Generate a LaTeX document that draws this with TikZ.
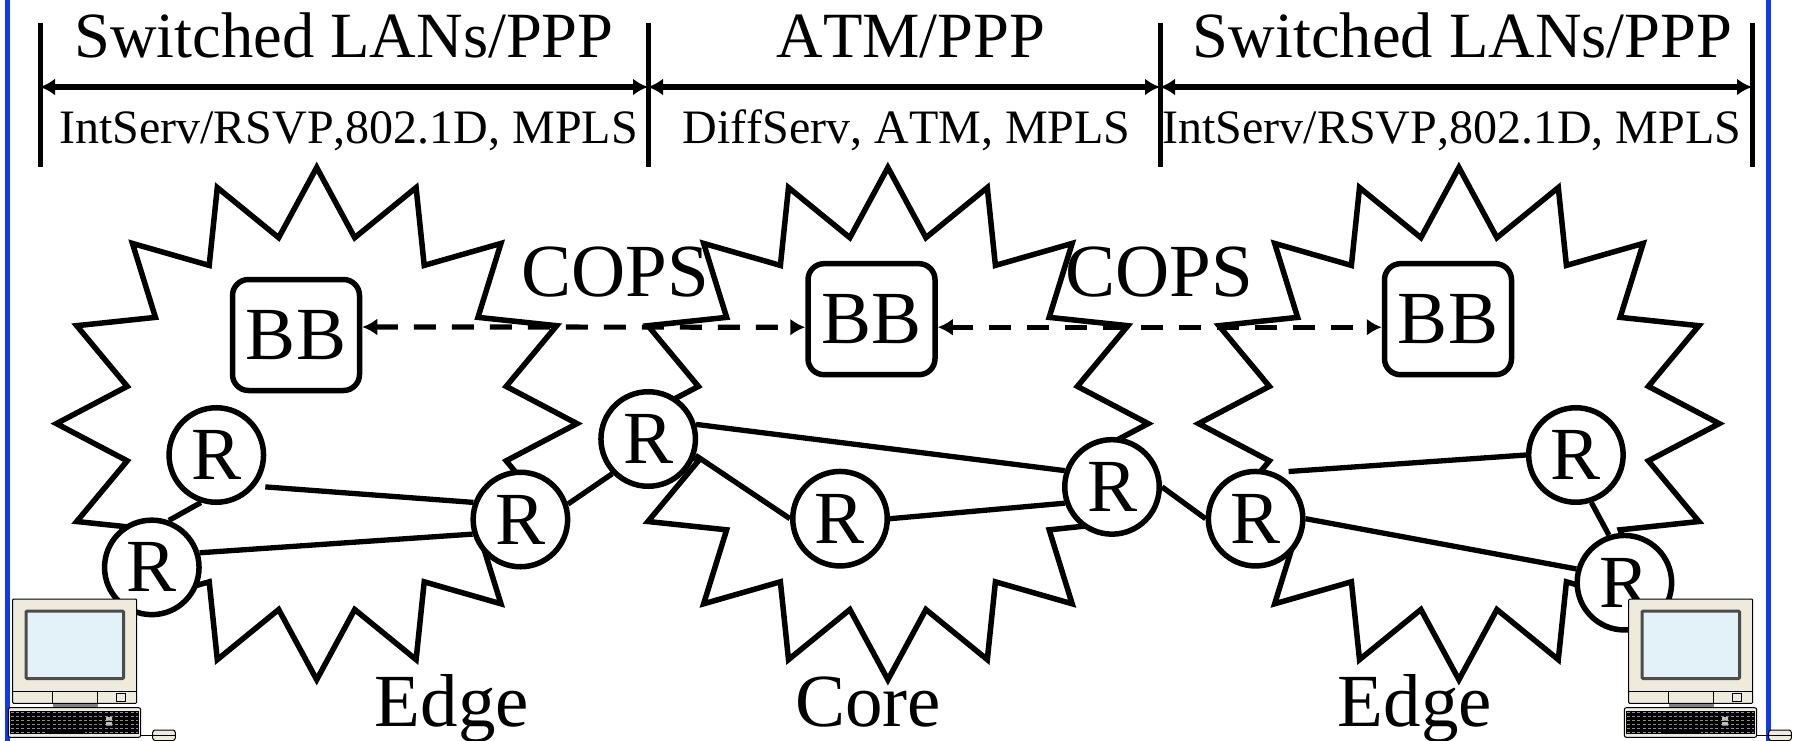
\documentclass[tikz,border=0pt]{standalone}
\usepackage{fontspec}
\setmainfont[Kerning=Off]{Liberation Serif}
\usetikzlibrary{arrows.meta}
\definecolor{slideblue}{RGB}{14,58,235}
\definecolor{beige}{RGB}{239,235,220}
\definecolor{screenblue}{RGB}{227,242,248}
\newcommand{\bigfont}{\fontsize{75}{80}\selectfont}
\newcommand{\headfont}{\fontsize{64.5}{72}\selectfont}
\newcommand{\subfont}{\fontsize{48}{56}\selectfont}
\newcommand{\zigstar}[2]{%
  \draw[starline,shift={(#1,#2)},scale=.99]
   (0,-258.7) -- (38.4,-187.8) -- (100.4,-238.4) -- (108.6,-159.8) -- (186.1,-182) -- (162.9,-107.3) -- (242.4,-98.9) -- (191.4,-37.6) --
   (262.9,0) -- (191.4,37.6) -- (242.4,98.9) -- (162.9,107.3) -- (186.1,182) -- (108.6,159.8) -- (100.4,238.4) -- (38.4,187.8) --
   (0,258.7) -- (-38.4,187.8) -- (-100.4,238.4) -- (-108.6,159.8) -- (-186.1,182) -- (-162.9,107.3) -- (-242.4,98.9) -- (-191.4,37.6) --
   (-262.9,0) -- (-191.4,-37.6) -- (-242.4,-98.9) -- (-162.9,-107.3) -- (-186.1,-182) -- (-108.6,-159.8) -- (-100.4,-238.4) -- (-38.4,-187.8) -- cycle;}
\tikzset{
  starline/.style={line width=5.5pt,miter limit=20,line join=miter},
  router/.style={circle,draw,fill=white,line width=5.5pt,minimum size=94.5pt,inner sep=0pt,font=\bigfont},
  bbox/.style={rectangle,draw,fill=white,line width=5.5pt,rounded corners=16pt,minimum width=127pt,minimum height=111pt,inner sep=0pt,font=\bigfont},
  link/.style={line width=5.3pt},
  tick/.style={line width=5pt},
  span/.style={line width=5.5pt,{Latex[length=15pt,width=17pt]}-{Latex[length=15pt,width=17pt]}},
  signal/.style={line width=5.2pt,dash pattern=on 22pt off 16pt,{Latex[length=15pt,width=17pt]}-{Latex[length=15pt,width=17pt]}},
  label/.style={inner sep=0pt,anchor=base,font=\bigfont},
  head/.style={inner sep=0pt,anchor=base,font=\headfont},
  sub/.style={inner sep=0pt,anchor=base,font=\subfont},
  computer/.pic={
    \draw[fill=beige,line width=1pt,rounded corners=1pt] (12.7,599) rectangle (136.7,703.3);
    \draw[fill=screenblue,draw=black!70,line width=3pt,rounded corners=1pt] (26,611) rectangle (123.5,678.5);
    \draw[line width=1pt] (12.7,691) -- (136.7,691);
    \draw[line width=1pt] (52.3,691) -- (52.3,703.3) (97.7,691) -- (97.7,703.3);
    \draw[line width=1pt,fill=beige] (116.7,693.3) rectangle (125.3,701.7);
    \fill[black!50] (52.7,703.8) rectangle (97.7,707.7);
    \draw[fill=beige,line width=1pt,rounded corners=2pt] (8.3,707.7) rectangle (140.7,737.3);
    \fill[black] (10.2,710.7) rectangle (138.7,733.6);
    \foreach \ky in {712.5,716.5,720.5,724.5,728.5,732}
      \draw[black!45,line width=.6pt,dash pattern=on 3pt off 2.2pt] (11,\ky) -- (138,\ky);
    \fill[black] (46,729.5) rectangle (85,733.6);
    \fill[black!25] (106,717) rectangle (112,720.5) (106,722) rectangle (112,725.5);
    \draw[line width=1pt] (140.7,735.7) -- (152.7,735.7);
    \draw[fill=beige,line width=1pt,rounded corners=2.5pt] (152.7,730) rectangle (175.3,740.5);
    \draw[line width=.7pt] (153,735) -- (175,735);
  }
}
\begin{document}
\begin{tikzpicture}[x=1pt,y=-1pt]
\useasboundingbox (0,0) rectangle (1794,741);
% slide frame
\fill[slideblue] (5,0) rectangle (10,741);
\fill[slideblue] (1766,0) rectangle (1771,741);
% range markers
\coordinate (a0) at (40,87);
\coordinate (a1) at (648,87);
\coordinate (a2) at (1160,87);
\coordinate (a3) at (1752,87);
\draw[tick] (40,23) -- (40,167);
\draw[tick] (648,23) -- (648,167);
\draw[tick] (1160,23) -- (1160,167);
\draw[tick] (1752,23) -- (1752,167);
\draw[span] (a0) -- (a1);
\draw[span] (a1) -- (a2);
\draw[span] (a2) -- (a3);
\node[head] (h1) at (344,57.5) {Switched LANs/PPP};
\node[head] (h2) at (911,57.5) {ATM/PPP};
\node[head] (h3) at (1462.5,57.5) {Switched LANs/PPP};
\node[sub] (s1) at (348.5,143) {IntServ/RSVP,802.1D, MPLS};
\node[sub] (s2) at (906.5,143) {DiffServ, ATM, MPLS};
\node[sub] (s3) at (1452,143) {IntServ/RSVP,802.1D, MPLS};
% clouds
\zigstar{316.7}{423.6}
\zigstar{887.9}{423.6}
\zigstar{1458.9}{423.6}
% bandwidth brokers
\node[bbox] (bb1) at (296,335) {\raisebox{-3pt}{BB}};
\node[bbox] (bb2) at (871.5,319.2) {\raisebox{-3.5pt}{BB}};
\node[bbox] (bb3) at (1448,319.2) {\raisebox{-3.5pt}{BB}};
\draw[signal] ([yshift=8pt]bb1.east) -- ([yshift=-8pt]bb2.west);
\draw[signal] ([yshift=-8pt]bb2.east) -- ([yshift=-8pt]bb3.west);
\node[label] (cops1) at (615,296) {COPS};
\node[label] (cops2) at (1159,296) {COPS};
% routers
\node[router] (r1a) at (216.3,455) {\raisebox{-3.5pt}{R}};
\node[router] (r1b) at (151.8,567.4) {\raisebox{-3.5pt}{R}};
\node[router] (r1c) at (520.4,519.5) {\raisebox{-3.5pt}{R}};
\node[router] (r2a) at (648.2,439) {\raisebox{-3.5pt}{R}};
\node[router] (r2b) at (840,518.7) {\raisebox{-3.5pt}{R}};
\node[router] (r2c) at (1112,486.9) {\raisebox{-3.5pt}{R}};
\node[router] (r3a) at (1255.6,518.7) {\raisebox{-3.5pt}{R}};
\node[router] (r3b) at (1575.9,455) {\raisebox{-3.5pt}{R}};
\node[router] (r3c) at (1624.4,582.7) {\raisebox{-3.5pt}{R}};
\coordinate (free1) at (265.3,486.9);
\coordinate (free3) at (1288.6,471.5);
\draw[link] (r1b.70) -- (r1a.252);
\draw[link] (r1b.17.7) -- (r1c.197);
\draw[link] (free1) -- (r1c.160);
\draw[link] (r1c.18.5) -- (r2a.224);
\draw[link] (r2a.17.5) -- (r2c.161);
\draw[link] (r2a.-19) -- (r2b.180);
\draw[link] (r2b.0) -- (r2c.199);
\draw[link] (r2c.0) -- (r3a.180);
\draw[link] (free3) -- (r3b.180);
\draw[link] (r3a.0) -- (r3c.164);
\draw[link] (r3b.-72) -- (r3c.108);
% labels below
\node[label] (e1) at (452,726.5) {Edge};
\node[label] (core) at (868,726.5) {Core};
\node[label] (e3) at (1415,726.5) {Edge};
% hosts
\pic at (0,0) {computer};
\pic at (1616,0) {computer};
\end{tikzpicture}
\end{document}
